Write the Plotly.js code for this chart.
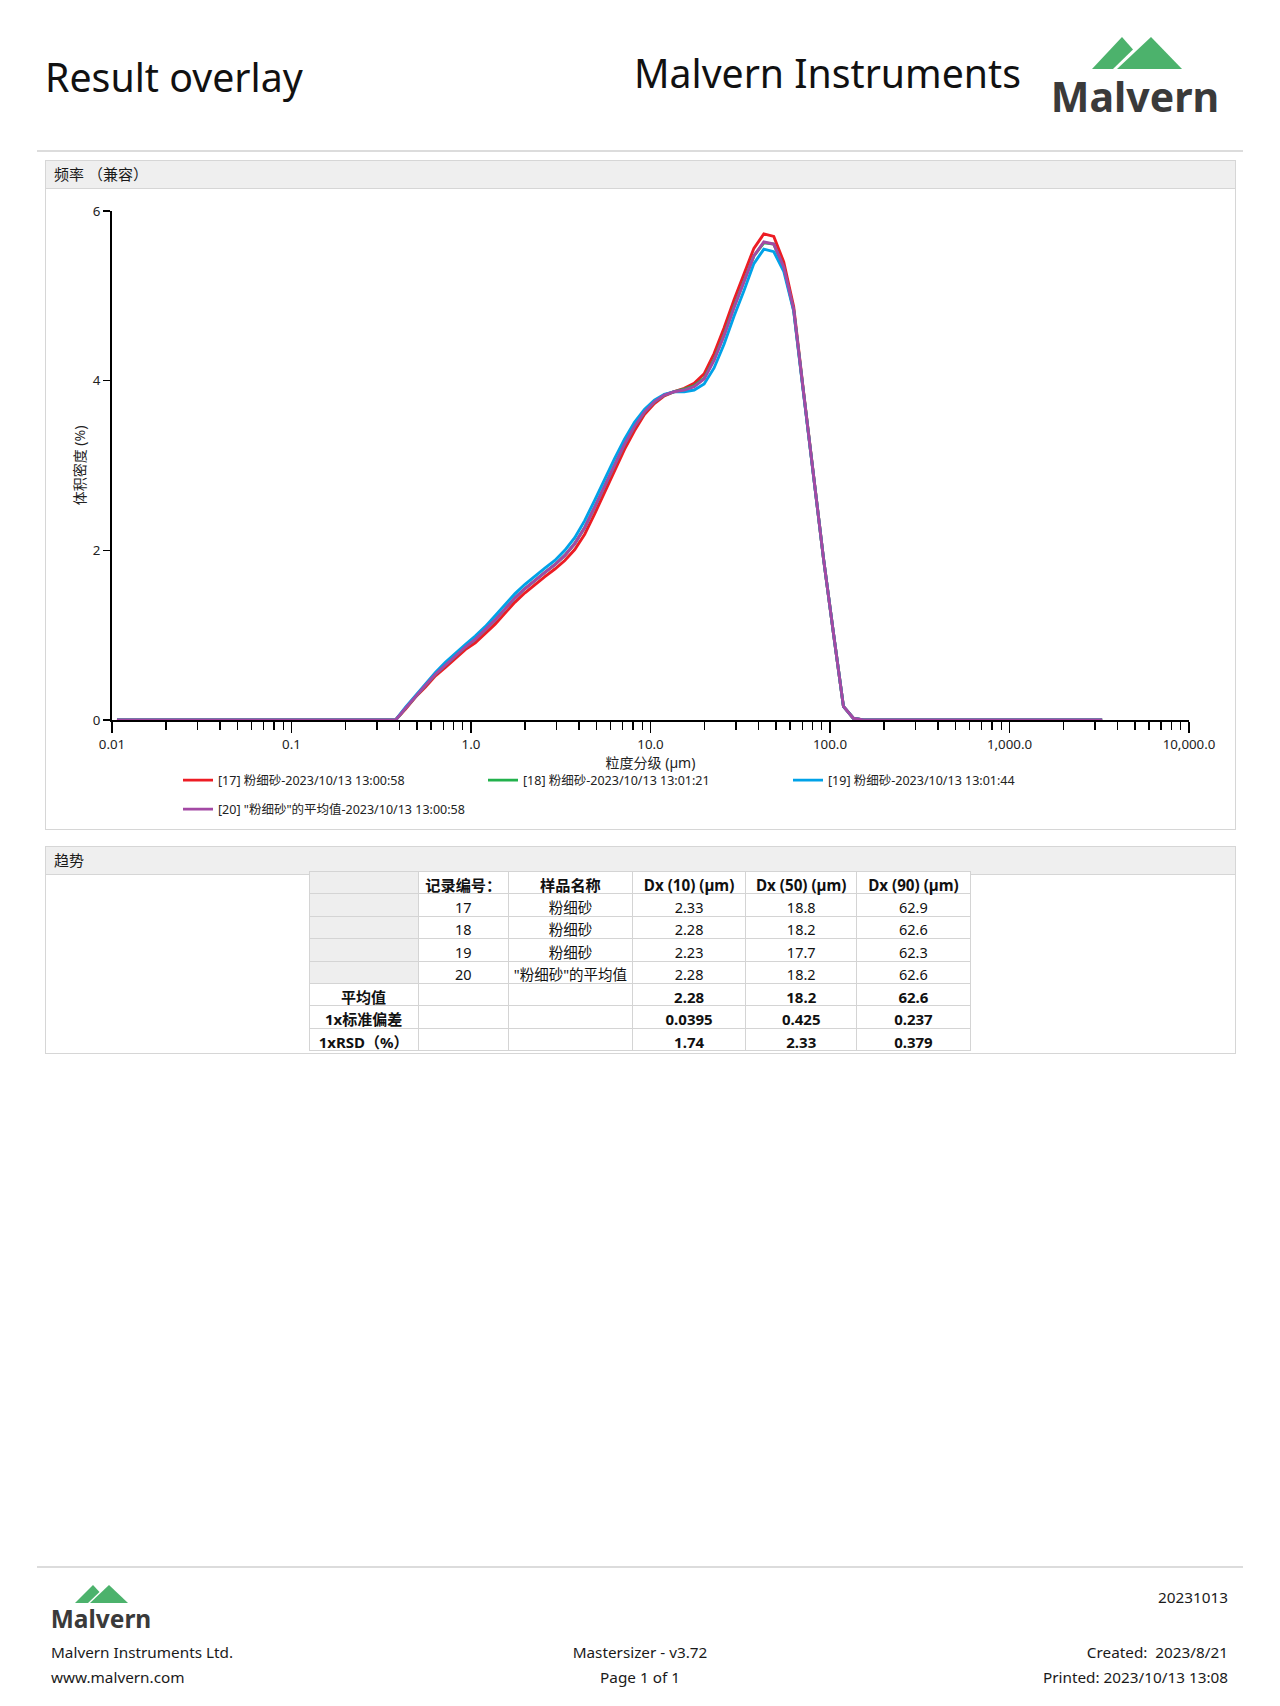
<!DOCTYPE html>
<html><head><meta charset="utf-8">
<script src="https://cdn.plot.ly/plotly-3.0.1.min.js"></script>
<style>
body{margin:0;background:#fff;font-family:"Noto Sans","Noto Sans CJK SC",sans-serif;color:#1a1a1a;}
#page{position:relative;width:1280px;height:1706px;overflow:hidden;background:#fff;}
.abs{position:absolute;white-space:nowrap;line-height:1;}
.panel{position:absolute;border:1px solid #d6d6d6;box-sizing:border-box;}
.bar{position:absolute;left:0;right:0;top:0;height:27px;background:#efefef;border-bottom:1px solid #d6d6d6;font-size:15px;line-height:27px;padding-left:8px;color:#1a1a1a;}
.hline{position:absolute;left:37px;width:1206px;height:2px;background:#dcdcdc;}
.foot{font-size:15.3px;color:#1a1a1a;}
#plot{position:absolute;left:0;top:0;width:1280px;height:1706px;}
</style></head>
<body>
<div id="page">
  <div class="abs" style="left:45px;top:58px;font-size:39.3px;color:#111;">Result overlay</div>
  <div class="abs" style="left:634px;top:53px;font-size:39.2px;color:#111;">Malvern Instruments</div>
  <svg class="abs" style="left:1030px;top:25px" width="220" height="110" viewBox="1030 25 220 110">
    <polygon points="1092,69 1122,37 1133,49.5 1113,69" fill="#4cb26c"/>
    <polygon points="1117,69 1151,37 1182,69" fill="#4cb26c"/>
    <text x="1135" y="112" text-anchor="middle" font-family="Noto Sans" font-weight="bold" font-size="41" fill="#3a3a3a">Malvern</text>
  </svg>
  <div class="hline" style="top:150px;"></div>

  <div class="panel" style="left:45px;top:160px;width:1191px;height:670px;">
    <div class="bar">频率 （兼容）</div>
  </div>
  <div class="panel" style="left:45px;top:846px;width:1191px;height:208px;">
    <div class="bar">趋势</div>
  </div>

  <div class="hline" style="top:1566px;"></div>
  <svg class="abs" style="left:30px;top:1570px" width="150" height="75" viewBox="30 1570 150 75">
    <polygon points="75,1603 93,1585 99.5,1592 88,1603" fill="#4cb26c"/>
    <polygon points="90,1603 109,1585 128,1603" fill="#4cb26c"/>
    <text x="101" y="1628" text-anchor="middle" font-family="Noto Sans" font-weight="bold" font-size="24.5" fill="#3a3a3a">Malvern</text>
  </svg>
  <div class="abs foot" style="right:52px;top:1590px;">20231013</div>
  <div class="abs foot" style="left:51px;top:1645px;">Malvern Instruments Ltd.</div>
  <div class="abs foot" style="left:51px;top:1670px;">www.malvern.com</div>
  <div class="abs foot" style="left:540px;width:200px;text-align:center;top:1645px;">Mastersizer - v3.72</div>
  <div class="abs foot" style="left:540px;width:200px;text-align:center;top:1670px;">Page 1 of 1</div>
  <div class="abs foot" style="right:52px;top:1645px;">Created:&nbsp; 2023/8/21</div>
  <div class="abs foot" style="right:52px;top:1670px;">Printed: 2023/10/13 13:08</div>

  <div id="plot"></div>
</div>
<script>
// particle size (µm) at bin centres
const sizes = [0.01066, 0.3802, 0.4320, 0.4909, 0.5577, 0.6337, 0.7200, 0.8180, 0.9293, 1.0558, 1.1996,
  1.3629, 1.5485, 1.7593, 1.9989, 2.2710, 2.5802, 2.9316, 3.3307, 3.7843, 4.2996, 4.8850, 5.5502,
  6.3060, 7.1646, 8.1401, 9.2485, 10.508, 11.939, 13.564, 15.411, 17.510, 19.894, 22.603, 25.681,
  29.178, 33.151, 37.665, 42.793, 48.620, 55.240, 62.762, 71.308, 81.017, 92.049, 104.58, 118.82,
  135.00, 153.39, 3283];

// volume density (%)
const run17 = [0, 0, 0.13, 0.27, 0.39, 0.52, 0.62, 0.73, 0.83, 0.91, 1.02, 1.13, 1.26, 1.39, 1.50, 1.60,
  1.69, 1.78, 1.88, 2.01, 2.19, 2.43, 2.68, 2.94, 3.19, 3.41, 3.60, 3.73, 3.82, 3.87, 3.91, 3.97, 4.08,
  4.32, 4.62, 4.95, 5.25, 5.56, 5.73, 5.70, 5.40, 4.87, 3.86, 2.85, 1.90, 1.02, 0.16, 0.02, 0, 0];
const run18 = [0, 0, 0.14, 0.28, 0.41, 0.54, 0.65, 0.76, 0.86, 0.95, 1.06, 1.18, 1.31, 1.44, 1.55, 1.65,
  1.74, 1.83, 1.94, 2.08, 2.27, 2.51, 2.76, 3.01, 3.25, 3.46, 3.63, 3.75, 3.83, 3.87, 3.90, 3.94, 4.03,
  4.25, 4.54, 4.87, 5.17, 5.47, 5.625, 5.61, 5.33, 4.83, 3.85, 2.85, 1.90, 1.02, 0.16, 0.02, 0, 0];
const run19 = [0, 0, 0.15, 0.29, 0.43, 0.56, 0.68, 0.79, 0.89, 0.99, 1.10, 1.23, 1.36, 1.49, 1.60, 1.70,
  1.79, 1.88, 2.00, 2.15, 2.35, 2.59, 2.84, 3.08, 3.31, 3.51, 3.66, 3.77, 3.84, 3.87, 3.87, 3.89, 3.96,
  4.15, 4.43, 4.76, 5.06, 5.38, 5.55, 5.52, 5.29, 4.82, 3.84, 2.85, 1.90, 1.02, 0.16, 0.02, 0, 0];
const run20 = [0, 0, 0.14, 0.28, 0.41, 0.54, 0.65, 0.76, 0.86, 0.95, 1.06, 1.18, 1.31, 1.44, 1.55, 1.65,
  1.74, 1.83, 1.94, 2.08, 2.27, 2.51, 2.76, 3.01, 3.25, 3.46, 3.63, 3.75, 3.83, 3.87, 3.89, 3.93, 4.02,
  4.24, 4.53, 4.86, 5.16, 5.47, 5.635, 5.61, 5.34, 4.84, 3.85, 2.85, 1.90, 1.02, 0.16, 0.02, 0, 0];

const seriesNames = ['[17] 粉细砂-2023/10/13 13:00:58', '[18] 粉细砂-2023/10/13 13:01:21',
  '[19] 粉细砂-2023/10/13 13:01:44', '[20] "粉细砂"的平均值-2023/10/13 13:00:58'];
const seriesColors = ['#ED1C24', '#22B14C', '#00A2E8', '#A349A4'];

const xTickVals = [0.01, 0.1, 1, 10, 100, 1000, 10000];
const xTickText = ['0.01', '0.1', '1.0', '10.0', '100.0', '1,000.0', '10,000.0'];
const yTickVals = [0, 2, 4, 6];

// trend table
const tableHeaders = ['', '记录编号：', '样品名称', 'Dx (10) (µm)', 'Dx (50) (µm)', 'Dx (90) (µm)'];
const recordIds = ['17', '18', '19', '20'];
const sampleNames = ['粉细砂', '粉细砂', '粉细砂', '"粉细砂"的平均值'];
const dx10 = ['2.33', '2.28', '2.23', '2.28'];
const dx50 = ['18.8', '18.2', '17.7', '18.2'];
const dx90 = ['62.9', '62.6', '62.3', '62.6'];
const statLabels = ['平均值', '1x标准偏差', '1xRSD（%）'];
const statDx10 = ['2.28', '0.0395', '1.74'];
const statDx50 = ['18.2', '0.425', '2.33'];
const statDx90 = ['62.6', '0.237', '0.379'];

const FONT = 'Noto Sans, Noto Sans CJK SC, sans-serif';
const W = 1280, H = 1706;
const px = v => v / W, py = v => (H - v) / H;

const runs = [run17, run18, run19, run20];
const traces = runs.map((r, k) => ({
  type: 'scatter', mode: 'lines', x: sizes, y: r, name: seriesNames[k],
  line: {color: seriesColors[k], width: 2.9},
  legend: k === 3 ? 'legend2' : 'legend',
  hoverinfo: 'skip'
}));

const blanks = n => Array(n).fill('');
const G = '#eeeeee', Wt = '#ffffff';
const nRows = recordIds.length + statLabels.length;
const colWeights = Array(6).fill(0).map(() => Array(recordIds.length).fill('normal').concat(Array(statLabels.length).fill('bold')));
const colSizes = Array(6).fill(0).map(() => Array(recordIds.length).fill(14.5).concat(Array(statLabels.length).fill(15)));
traces.push({
  type: 'table',
  domain: {x: [px(309), px(971)], y: [py(1056.5), py(871.5)]},
  columnwidth: [109, 90, 124, 113, 111, 113],
  header: {
    values: tableHeaders,
    fill: {color: [G, Wt, Wt, Wt, Wt, Wt]},
    line: {color: '#d4d4d4', width: 1},
    font: {family: FONT, size: 15.2, color: '#111', weight: 'bold'},
    align: 'center', height: 22.4
  },
  cells: {
    values: [
      blanks(recordIds.length).concat(statLabels),
      recordIds.concat(blanks(statLabels.length)),
      sampleNames.concat(blanks(statLabels.length)),
      dx10.concat(statDx10),
      dx50.concat(statDx50),
      dx90.concat(statDx90)
    ],
    fill: {color: [[G, G, G, G, Wt, Wt, Wt]].concat(Array(5).fill(0).map(() => Array(nRows).fill(Wt)))},
    line: {color: '#d4d4d4', width: 1},
    font: {family: FONT, size: colSizes, color: '#111', weight: colWeights},
    align: 'center', height: 22.4
  }
});

const legendBase = {
  orientation: 'h', xanchor: 'left', yanchor: 'top', x: px(178),
  entrywidth: 260, entrywidthmode: 'pixels',
  font: {family: FONT, size: 12.5, color: '#222'},
  bgcolor: 'rgba(0,0,0,0)', borderwidth: 0, traceorder: 'normal'
};

const layout = {
  width: W, height: H,
  margin: {l: 0, r: 0, t: 0, b: 0},
  paper_bgcolor: 'rgba(0,0,0,0)', plot_bgcolor: 'rgba(0,0,0,0)',
  font: {family: FONT, color: '#222'},
  showlegend: true,
  xaxis: {
    type: 'log', range: [-2, 4], domain: [px(112), px(1189)],
    tickmode: 'array', tickvals: xTickVals, ticktext: xTickText,
    ticks: 'outside', ticklen: 11, tickwidth: 1.6, tickcolor: '#000',
    minor: {ticks: 'outside', ticklen: 8, tickwidth: 1.4, tickcolor: '#000', dtick: 'D1', showgrid: false},
    showline: true, linecolor: '#000', linewidth: 2, showgrid: false, zeroline: false,
    layer: 'below traces',
    tickfont: {family: FONT, size: 13.3, color: '#222'},
    title: {text: '粒度分级 (µm)', font: {family: FONT, size: 14, color: '#222'}, standoff: 5}
  },
  yaxis: {
    range: [0, 6], domain: [py(720), py(211)],
    tickmode: 'array', tickvals: yTickVals, ticktext: yTickVals.map(String),
    ticks: 'outside', ticklen: 7, tickwidth: 1.6, tickcolor: '#000',
    showline: true, linecolor: '#000', linewidth: 2, showgrid: false, zeroline: false,
    layer: 'below traces',
    tickfont: {family: FONT, size: 13.3, color: '#222'},
    title: {text: '体积密度 (%)', font: {family: FONT, size: 14, color: '#222'}, standoff: 4}
  },
  legend: Object.assign({}, legendBase, {y: py(765.5)}),
  legend2: Object.assign({}, legendBase, {y: py(794.5)})
};

Plotly.newPlot('plot', traces, layout, {staticPlot: true, displayModeBar: false});
</script>
</body></html>
